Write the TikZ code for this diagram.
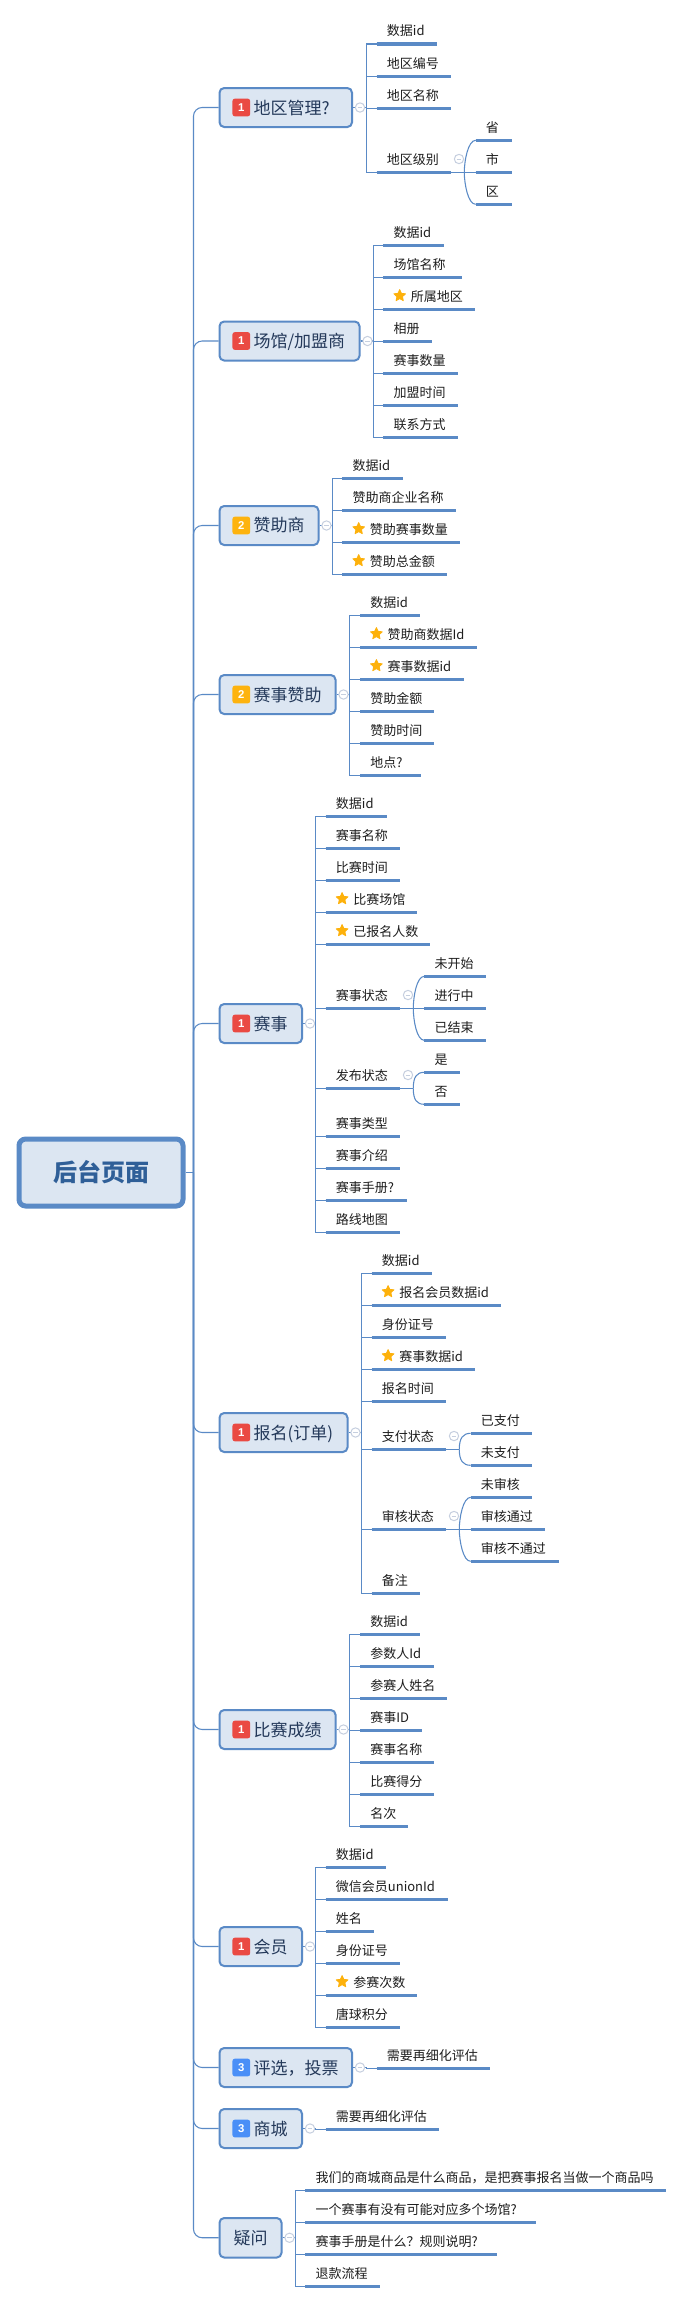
\documentclass[tikz,border=0pt]{standalone}
\usepackage{fontspec}
\setmainfont{Noto Sans CJK SC}
\newfontfamily\numfont{Liberation Sans}
\usetikzlibrary{shapes.geometric,calc}
\definecolor{lineblue}{HTML}{5A8AC6}
\definecolor{boxfill}{HTML}{DCE6F2}
\definecolor{rootink}{HTML}{2F5F98}
\definecolor{branchink}{HTML}{24395A}
\definecolor{leafink}{HTML}{1E1E1E}
\definecolor{badgeone}{HTML}{EA4A43}
\definecolor{badgetwo}{HTML}{FDB30F}
\definecolor{badgethree}{HTML}{4A8FF7}
\definecolor{staryellow}{HTML}{FDB10B}
\definecolor{collapseink}{HTML}{C6CFDF}
\tikzset{
  x=0.75pt,y=-0.75pt,
  conn/.style={draw=lineblue,line width=0.8pt},
  uline/.style={draw=lineblue,line width=2.3pt},
  rootbox/.style={draw=lineblue,fill=boxfill,line width=3.75pt,rounded corners=5pt,inner sep=0pt,
    text=rootink,font=\fontsize{18pt}{20pt}\selectfont\bfseries},
  branchbox/.style={draw=lineblue,fill=boxfill,line width=1.5pt,rounded corners=3.5pt,inner sep=0pt},
  branchtext/.style={anchor=base west,inner sep=0pt,text=branchink,font=\fontsize{12.75pt}{14pt}\selectfont},
  leaftext/.style={anchor=base west,inner sep=0pt,text=leafink,font=\fontsize{9.75pt}{11pt}\selectfont},
  badge/.style={fill=#1,rounded corners=1.8pt,minimum size=13.3pt,inner sep=0pt,text=white},
  collapsemark/.style={circle,draw=collapseink,fill=white,line width=0.75pt,minimum size=7pt,inner sep=0pt},
  collapsedash/.style={draw=collapseink,line width=0.75pt},
  starmark/.style={star,star points=5,star point ratio=2.1,fill=staryellow,draw=staryellow,
    line join=round,line width=0.6pt,minimum size=9.2pt,inner sep=0pt},
}
% #1 name, #2 x1, #3 x2, #4 y1, #5 y2
\newcommand\mmbox[5]{%
  \node[branchbox,minimum width={(#3-#2-2)*0.75pt},minimum height={(#5-#4-2)*0.75pt}] (#1) at ({(#2+#3)/2},{(#4+#5)/2}) {};
  \draw[conn,rounded corners=6.5pt] (rs) |- (#1.west);
}
\newcommand\mmbadge[3]{% name, colour, digit
  \node[badge=#2] (#1badge) at ($(#1.west)+(22.8,0)$) {\fontsize{8.5pt}{9pt}\numfont\bfseries #3};
}
% #1 name, #2 spine x
\newcommand\mmspine[2]{%
  \coordinate (#1spine) at (#1.center -| #2,0);
  \draw[conn] (#1.east) -- (#1spine);
  \node[collapsemark] (#1minus) at ($(#1.east)+(7,0)$) {};
  \draw[collapsedash] ($(#1minus)+(-2.4,0)$) -- ($(#1minus)+(2.4,0)$);
}
\newcommand\leafline[5]{%
  \coordinate (#1) at (#3,#5);
  \coordinate (#1end) at (#4,#5);
  \draw[uline] (#1) -- (#1end);
  \draw[conn] (#2) |- (#1);
}
% #1 name, #2 parent spine, #3 x1, #4 x2, #5 y, #6 text
\newcommand\leaf[6]{%
  \leafline{#1}{#2}{#3}{#4}{#5}
  \node[leaftext] (#1text) at (#3+10,#5-8.2) {#6};
}
\newcommand\sleaf[6]{%
  \leafline{#1}{#2}{#3}{#4}{#5}
  \node[starmark] (#1star) at (#3+16.4,#5-13.6) {};
  \node[leaftext] (#1text) at (#3+27.3,#5-8.2) {#6};
}
% #1 fork name, #2 parent leaf, #3 fork x
\newcommand\mmfork[3]{%
  \coordinate (#1) at (#2 -| #3,0);
  \draw[conn] (#2end) -- (#1);
  \node[collapsemark] (#1minus) at ($(#1)+(-5.3,-13.3)$) {};
  \draw[collapsedash] ($(#1minus)+(-2.4,0)$) -- ($(#1minus)+(2.4,0)$);
}
% #1 name, #2 fork, #3 out angle, #4 x1, #5 x2, #6 y, #7 text
\newcommand\gleaf[7]{%
  \coordinate (#1) at (#4,#6);
  \coordinate (#1end) at (#5,#6);
  \draw[uline] (#1) -- (#1end);
  \draw[conn] (#2) to[out=#3,in=180,out distance=8.5pt,in distance=5.8pt] (#1);
  \node[leaftext] (#1text) at (#4+10,#6-8.2) {#7};
}
\begin{document}
\begin{tikzpicture}
\useasboundingbox (0,0) rectangle (684,2303);
\fill[white] (0,0) rectangle (684,2303);
% root
\node[rootbox,minimum width={164*0.75pt},minimum height={67*0.75pt}] (root) at (101,1172.5) {后台页面};
\coordinate (rs) at (193.5,1172.5);
\draw[conn] (root.east) -- (rs);

% ---------- 地区管理
\mmbox{a}{218.5}{353}{87}{128}
\mmbadge{a}{badgeone}{1}
\node[branchtext] (alabel) at (253.3,114) {地区管理?};
\mmspine{a}{366.7}
\leaf{a1}{aspine}{376.7}{437}{44}{数据id}
\leaf{a2}{aspine}{376.7}{451}{76.3}{地区编号}
\leaf{a3}{aspine}{376.7}{451}{108.3}{地区名称}
\leaf{a4}{aspine}{376.7}{451}{172.3}{地区级别}
\mmfork{af}{a4}{464.3}
\gleaf{a41}{af}{90}{475.7}{511.7}{140.3}{省}
\gleaf{a42}{af}{0}{475.7}{511.7}{172.3}{市}
\gleaf{a43}{af}{-90}{475.7}{511.7}{204.3}{区}

% ---------- 场馆/加盟商
\mmbox{b}{218.5}{360.5}{320.5}{361.5}
\mmbadge{b}{badgeone}{1}
\node[branchtext] (blabel) at (253.3,347.5) {场馆/加盟商};
\mmspine{b}{373.3}
\leaf{b1}{bspine}{383.3}{444.3}{245.3}{数据id}
\leaf{b2}{bspine}{383.3}{462.3}{277.3}{场馆名称}
\sleaf{b3}{bspine}{383.3}{475.3}{309.3}{所属地区}
\leaf{b4}{bspine}{383.3}{432.3}{341.3}{相册}
\leaf{b5}{bspine}{383.3}{458.3}{373.3}{赛事数量}
\leaf{b6}{bspine}{383.3}{458.3}{405.3}{加盟时间}
\leaf{b7}{bspine}{383.3}{458.3}{437.3}{联系方式}

% ---------- 赞助商
\mmbox{c}{218.5}{319.5}{505}{546}
\mmbadge{c}{badgetwo}{2}
\node[branchtext] (clabel) at (253.3,531.7) {赞助商};
\mmspine{c}{332.3}
\leaf{c1}{cspine}{342.3}{403.3}{478.3}{数据id}
\leaf{c2}{cspine}{342.3}{456.3}{510.3}{赞助商企业名称}
\sleaf{c3}{cspine}{342.3}{460.3}{542.3}{赞助赛事数量}
\sleaf{c4}{cspine}{342.3}{447.3}{574.3}{赞助总金额}

% ---------- 赛事赞助
\mmbox{d}{218.5}{336.5}{674}{715}
\mmbadge{d}{badgetwo}{2}
\node[branchtext] (dlabel) at (253.3,701) {赛事赞助};
\mmspine{d}{349.3}
\leaf{d1}{dspine}{360}{420.3}{615.3}{数据id}
\sleaf{d2}{dspine}{360}{477}{647.3}{赞助商数据Id}
\sleaf{d3}{dspine}{360}{463.7}{679.3}{赛事数据id}
\leaf{d4}{dspine}{360}{434.3}{711.3}{赞助金额}
\leaf{d5}{dspine}{360}{434.3}{743.3}{赞助时间}
\leaf{d6}{dspine}{360}{421.3}{775.3}{地点?}

% ---------- 赛事
\mmbox{e}{218.5}{303}{1003}{1044}
\mmbadge{e}{badgeone}{1}
\node[branchtext] (elabel) at (253.3,1030) {赛事};
\mmspine{e}{315.7}
\leaf{e1}{espine}{325.7}{386.7}{816.3}{数据id}
\leaf{e2}{espine}{325.7}{400.3}{848.3}{赛事名称}
\leaf{e3}{espine}{325.7}{400.3}{880.3}{比赛时间}
\sleaf{e4}{espine}{325.7}{417.3}{912.3}{比赛场馆}
\sleaf{e5}{espine}{325.7}{430.3}{944.3}{已报名人数}
\leaf{e6}{espine}{325.7}{400.3}{1008.3}{赛事状态}
\mmfork{ef}{e6}{413.3}
\gleaf{e61}{ef}{90}{424.3}{486.3}{976.3}{未开始}
\gleaf{e62}{ef}{0}{424.3}{486.3}{1008.3}{进行中}
\gleaf{e63}{ef}{-90}{424.3}{486.3}{1040.3}{已结束}
\leaf{e7}{espine}{325.7}{400.3}{1088.3}{发布状态}
\mmfork{eg}{e7}{413.3}
\gleaf{e71}{eg}{90}{424.3}{460.3}{1072.3}{是}
\gleaf{e72}{eg}{-90}{424.3}{460.3}{1104.3}{否}
\leaf{e8}{espine}{325.7}{400.3}{1136.3}{赛事类型}
\leaf{e9}{espine}{325.7}{400.3}{1168.3}{赛事介绍}
\leaf{e10}{espine}{325.7}{407}{1200.3}{赛事手册?}
\leaf{e11}{espine}{325.7}{400.3}{1232.3}{路线地图}

% ---------- 报名(订单)
\mmbox{f}{218.5}{348.5}{1412}{1453}
\mmbadge{f}{badgeone}{1}
\node[branchtext] (flabel) at (253.3,1439) {报名(订单)};
\mmspine{f}{361.7}
\leaf{f1}{fspine}{371.7}{432.3}{1273.3}{数据id}
\sleaf{f2}{fspine}{371.7}{501.3}{1305.3}{报名会员数据id}
\leaf{f3}{fspine}{371.7}{446.3}{1337.3}{身份证号}
\sleaf{f4}{fspine}{371.7}{475.3}{1369.3}{赛事数据id}
\leaf{f5}{fspine}{371.7}{446.3}{1401.3}{报名时间}
\leaf{f6}{fspine}{371.7}{446.3}{1449.3}{支付状态}
\mmfork{ff}{f6}{459.3}
\gleaf{f61}{ff}{90}{470.7}{532.3}{1433.3}{已支付}
\gleaf{f62}{ff}{-90}{470.7}{532.3}{1465.3}{未支付}
\leaf{f7}{fspine}{371.7}{446.3}{1529.3}{审核状态}
\mmfork{fg}{f7}{459.3}
\gleaf{f71}{fg}{90}{470.7}{532.3}{1497.3}{未审核}
\gleaf{f72}{fg}{0}{470.7}{545.3}{1529.3}{审核通过}
\gleaf{f73}{fg}{-90}{470.7}{558.7}{1561.3}{审核不通过}
\leaf{f8}{fspine}{371.7}{420.3}{1593.3}{备注}

% ---------- 比赛成绩
\mmbox{g}{218.5}{336.5}{1709}{1750}
\mmbadge{g}{badgeone}{1}
\node[branchtext] (glabel) at (253.3,1736) {比赛成绩};
\mmspine{g}{349.3}
\leaf{g1}{gspine}{360}{420.3}{1634.3}{数据id}
\leaf{g2}{gspine}{360}{434.3}{1666.3}{参数人Id}
\leaf{g3}{gspine}{360}{447.3}{1698.3}{参赛人姓名}
\leaf{g4}{gspine}{360}{422.3}{1730.3}{赛事ID}
\leaf{g5}{gspine}{360}{434.3}{1762.3}{赛事名称}
\leaf{g6}{gspine}{360}{434.3}{1794.3}{比赛得分}
\leaf{g7}{gspine}{360}{408.3}{1826.3}{名次}

% ---------- 会员
\mmbox{h}{218.5}{303}{1926}{1967}
\mmbadge{h}{badgeone}{1}
\node[branchtext] (hlabel) at (253.3,1953) {会员};
\mmspine{h}{315.7}
\leaf{h1}{hspine}{325.7}{386.3}{1867.3}{数据id}
\leaf{h2}{hspine}{325.7}{448.3}{1899.3}{微信会员unionId}
\leaf{h3}{hspine}{325.7}{374.3}{1931.3}{姓名}
\leaf{h4}{hspine}{325.7}{400.3}{1963.3}{身份证号}
\sleaf{h5}{hspine}{325.7}{417.3}{1995.3}{参赛次数}
\leaf{h6}{hspine}{325.7}{400.3}{2027.3}{唐球积分}

% ---------- 评选，投票
\mmbox{i}{218.5}{353}{2047}{2088}
\mmbadge{i}{badgethree}{3}
\node[branchtext] (ilabel) at (253.3,2074.3) {评选，投票};
\mmspine{i}{366.7}
\leaf{i1}{ispine}{376.7}{490.3}{2068.3}{需要再细化评估}

% ---------- 商城
\mmbox{j}{218.5}{303}{2108}{2149}
\mmbadge{j}{badgethree}{3}
\node[branchtext] (jlabel) at (253.3,2135.3) {商城};
\mmspine{j}{315.7}
\leaf{j1}{jspine}{325.7}{439.3}{2129.3}{需要再细化评估}

% ---------- 疑问
\mmbox{k}{218.5}{282.5}{2217}{2258.5}
\node[branchtext] (klabel) at (233.3,2244.5) {疑问};
\mmspine{k}{295.3}
\leaf{k1}{kspine}{305.3}{666.3}{2190.3}{我们的商城商品是什么商品，是把赛事报名当做一个商品吗}
\leaf{k2}{kspine}{305.3}{536.3}{2222.3}{一个赛事有没有可能对应多个场馆?}
\leaf{k3}{kspine}{305.3}{497.3}{2254.3}{赛事手册是什么？规则说明?}
\leaf{k4}{kspine}{305.3}{380.3}{2286.3}{退款流程}
\end{tikzpicture}
\end{document}
